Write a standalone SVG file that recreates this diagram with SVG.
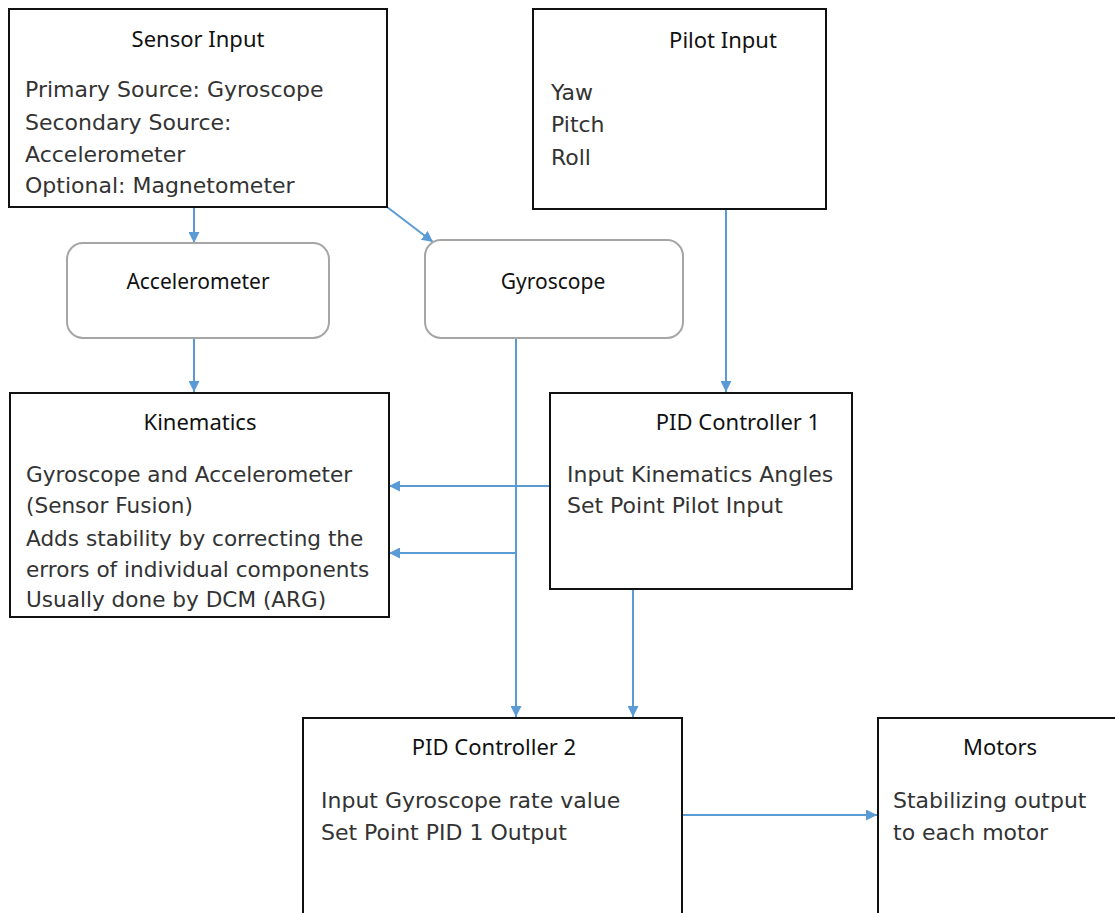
<svg xmlns="http://www.w3.org/2000/svg" width="1115" height="913" viewBox="0 0 1115 913">
<defs>
<marker id="arr" viewBox="0 0 10 10" refX="10" refY="5" markerWidth="11" markerHeight="11" markerUnits="userSpaceOnUse" orient="auto">
<path d="M0,0 L10,5 L0,10 z" fill="#5b9bd5"/>
</marker>
<clipPath id="kclip"><rect x="10" y="392" width="379" height="219"/></clipPath>
<style>
.box{fill:#fff;stroke:#111;stroke-width:2}
.rbox{fill:#fff;stroke:#a6a6a6;stroke-width:2}
.t{font-family:"Noto Sans","DejaVu Sans",sans-serif;font-size:22px;fill:#111}
.s{font-family:"Noto Sans","DejaVu Sans",sans-serif;font-size:21px;fill:#111}
.b{font-family:"DejaVu Sans","Noto Sans",sans-serif;font-size:22px;fill:#333}
.k{font-size:21.6px}
.c{stroke:#5b9bd5;stroke-width:2;fill:none}
</style>
</defs>
<rect width="1115" height="913" fill="#fff"/>
<g id="connectors">
<line class="c" x1="194" y1="207" x2="194" y2="243" marker-end="url(#arr)"/>
<line class="c" x1="387" y1="207" x2="433" y2="242" marker-end="url(#arr)"/>
<line class="c" x1="194" y1="338" x2="194" y2="392" marker-end="url(#arr)"/>
<line class="c" x1="726" y1="209" x2="726" y2="392" marker-end="url(#arr)"/>
<line class="c" x1="516" y1="338" x2="516" y2="717" marker-end="url(#arr)"/>
<line class="c" x1="550" y1="486" x2="389" y2="486" marker-end="url(#arr)"/>
<line class="c" x1="516" y1="553" x2="389" y2="553" marker-end="url(#arr)"/>
<line class="c" x1="633" y1="589" x2="633" y2="717" marker-end="url(#arr)"/>
<line class="c" x1="682" y1="815" x2="877" y2="815" marker-end="url(#arr)"/>
</g>
<g id="sensor-input">
<rect class="box" x="9" y="9" width="378" height="198"/>
<text class="t" x="198" y="47" text-anchor="middle">Sensor Input</text>
<text class="b" x="25" y="97">Primary Source: Gyroscope</text>
<text class="b" x="25" y="130">Secondary Source:</text>
<text class="b" x="25" y="162">Accelerometer</text>
<text class="b" x="25" y="193">Optional: Magnetometer</text>
</g>
<g id="pilot-input">
<rect class="box" x="533" y="9" width="293" height="200"/>
<text class="t" x="723" y="48" text-anchor="middle">Pilot Input</text>
<text class="b" x="551" y="100">Yaw</text>
<text class="b" x="551" y="132">Pitch</text>
<text class="b" x="551" y="165">Roll</text>
</g>
<g id="accelerometer">
<rect class="rbox" x="67" y="243" width="262" height="95" rx="16"/>
<text class="s" x="198" y="289" text-anchor="middle">Accelerometer</text>
</g>
<g id="gyroscope">
<rect class="rbox" x="425" y="240" width="258" height="98" rx="16"/>
<text class="s" x="553" y="289" text-anchor="middle">Gyroscope</text>
</g>
<g id="kinematics">
<rect class="box" x="10" y="393" width="379" height="224"/>
<text class="t" x="200" y="430" text-anchor="middle">Kinematics</text>
<g clip-path="url(#kclip)">
<text class="b k" x="26" y="482">Gyroscope and Accelerometer</text>
<text class="b k" x="26" y="513">(Sensor Fusion)</text>
<text class="b k" x="26" y="546">Adds stability by correcting the</text>
<text class="b k" x="26" y="577">errors of individual components</text>
<text class="b k" x="26" y="607">Usually done by DCM (ARG)</text>
</g>
</g>
<g id="pid-controller-1">
<rect class="box" x="550" y="393" width="302" height="196"/>
<text class="t" x="738" y="430" text-anchor="middle">PID Controller 1</text>
<text class="b" x="567" y="482">Input Kinematics Angles</text>
<text class="b" x="567" y="513">Set Point Pilot Input</text>
</g>
<g id="pid-controller-2">
<rect class="box" x="303" y="718" width="379" height="205"/>
<text class="t" x="494" y="755" text-anchor="middle">PID Controller 2</text>
<text class="b" x="321" y="808">Input Gyroscope rate value</text>
<text class="b" x="321" y="840">Set Point PID 1 Output</text>
</g>
<g id="motors">
<rect class="box" x="878" y="718" width="250" height="205"/>
<text class="t" x="1000" y="755" text-anchor="middle">Motors</text>
<text class="b" x="893" y="808">Stabilizing output</text>
<text class="b" x="893" y="840">to each motor</text>
</g>
</svg>
